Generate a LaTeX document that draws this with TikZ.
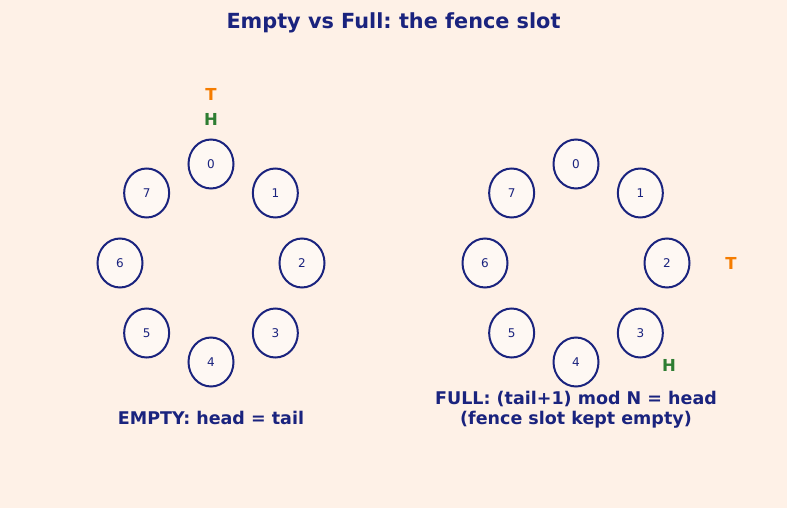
\documentclass[tikz,border=0pt]{standalone}
\usepackage{fontspec}
\setmainfont{DejaVu Sans}
\frenchspacing
\usetikzlibrary{shapes.geometric}
\definecolor{navy}{HTML}{1A237E}
\definecolor{bgcream}{HTML}{FEF1E7}
\definecolor{slotfill}{HTML}{FEF8F3}
\definecolor{tailorange}{HTML}{F57C00}
\definecolor{headgreen}{HTML}{2E7D32}
\tikzset{
  slot/.style={draw=navy, line width=2pt, fill=slotfill, ellipse, minimum width=45pt, minimum height=49pt, inner sep=0pt, text=navy, font=\fontsize{12}{14}\selectfont},
  ptr/.style={font=\fontsize{16.5}{18}\selectfont\bfseries},
  caption/.style={text=navy, font=\fontsize{17.5}{20}\selectfont\bfseries, align=center}
}

\begin{document}
\begin{tikzpicture}[x=1pt,y=-1pt]
  % Fondo
  \fill [bgcream] (0,0) rectangle (787,508);
  \useasboundingbox (0,0) rectangle (787,508);

  \node [text=navy, font=\fontsize{20.8}{24}\selectfont\bfseries] (title) at (393.5,23) {Empty vs Full: the fence slot};

  % Anillo vacio
  \foreach \k in {0,...,7}
    \node [slot] (l\k) at ({211+91*sin(45*\k)},{263-99*cos(45*\k)}) {\k};
  \node [ptr, text=tailorange] (ltail) at (211,94) {T};
  \node [ptr, text=headgreen] (lhead) at (211,119) {H};
  \node [caption] (lcap) at (211,418) {EMPTY: head = tail};

  % Anillo lleno
  \foreach \k in {0,...,7}
    \node [slot] (r\k) at ({576+91*sin(45*\k)},{263-99*cos(45*\k)}) {\k};
  \node [ptr, text=tailorange] (rtail) at (731,263) {T};
  \node [ptr, text=headgreen] (rhead) at (669,365) {H};
  \node [caption] (rcap) at (576,409.5) {FULL: (tail+1) mod N = head\\(fence slot kept empty)};
\end{tikzpicture}
\end{document}
